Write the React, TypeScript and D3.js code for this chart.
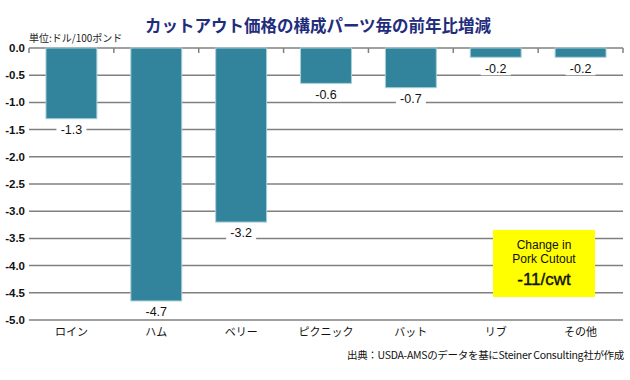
import React from "react";
import * as d3 from "d3";

const categories = ["ロイン", "ハム", "ベリー", "ピクニック", "バット", "リブ", "その他"];
const values = [-1.3, -4.65, -3.2, -0.65, -0.73, -0.17, -0.17];
const valueLabels = ["-1.3", "-4.7", "-3.2", "-0.6", "-0.7", "-0.2", "-0.2"];
const yTicks = [0, -0.5, -1, -1.5, -2, -2.5, -3, -3.5, -4, -4.5, -5];
const title = "カットアウト価格の構成パーツ毎の前年比増減";
const unitLabel = "単位:ドル/100ポンド";
const sourceLabel = "出典：USDA-AMSのデータを基にSteiner Consulting社が作成";
const boxLines = ["Change in", "Pork Cutout", "-11/cwt"];

const W = 630, H = 380;
const left = 29, right = 623, top = 48, bottom = 320;
const font = "'Liberation Sans', Arial, 'Noto Sans CJK JP', sans-serif";

export default function App() {
  const x = d3.scaleBand<string>().domain(categories).range([left, right]).paddingInner(0.4).paddingOuter(0.2);
  const xb = d3.scaleBand<string>().domain(categories).range([left, right]);
  const y = d3.scaleLinear().domain([0, -5]).range([top, bottom]);
  return (
    <svg width={W} height={H} style={{ position: "absolute", left: 0, top: 0, background: "#fff" }}>
      <text x={318} y={32} textAnchor="middle" fontFamily="'Noto Sans CJK JP', sans-serif" fontWeight="bold" fontSize={16.5} fill="#1f2d7c">{title}</text>
      <text x={29} y={42} fontFamily="'Noto Sans CJK JP', sans-serif" fontSize={10} fill="#222">{unitLabel}</text>
      {yTicks.map((t) => (
        <g key={t}>
          <line x1={left} x2={right} y1={y(t)} y2={y(t)} stroke="#808080" strokeWidth={1.5} />
          <text x={25} y={y(t)} dy="0.35em" textAnchor="end" fontFamily={font} fontWeight="bold" fontSize={11.5} fill="#111">{t.toFixed(1)}</text>
        </g>
      ))}
      <line x1={left} x2={left} y1={top} y2={top + 5} stroke="#808080" strokeWidth={1.5} />
      {categories.map((c) => (
        <line key={"t" + c} x1={(xb(c) as number) + xb.bandwidth()} x2={(xb(c) as number) + xb.bandwidth()} y1={top} y2={top + 5} stroke="#808080" strokeWidth={1.5} />
      ))}
      {categories.map((c, i) => (
        <rect key={c} x={x(c)} y={y(0)} width={x.bandwidth()} height={y(values[i]) - y(0)} fill="#31849b" stroke="#a9cfd8" strokeWidth={1} />
      ))}
      {categories.map((c, i) => {
        const cx = (x(c) as number) + x.bandwidth() / 2;
        const ly = y(values[i]) + 11;
        return (
          <g key={"l" + c}>
            <rect x={cx - 15} y={ly - 7} width={30} height={14} fill="#fff" />
            <text x={cx} y={ly} dy="0.35em" textAnchor="middle" fontFamily={font} fontSize={12.5} fill="#111">{valueLabels[i]}</text>
          </g>
        );
      })}
      {categories.map((c) => (
        <text key={"x" + c} x={(x(c) as number) + x.bandwidth() / 2} y={336} textAnchor="middle" fontFamily="'Noto Sans CJK JP', sans-serif" fontSize={11} fill="#111">{c}</text>
      ))}
      <text x={624} y={359} textAnchor="end" fontFamily="'Noto Sans CJK JP', sans-serif" fontSize={10.5} letterSpacing={-0.3} fill="#111">{sourceLabel}</text>
      <rect x={493} y={230} width={102} height={67} fill="#ffff00" />
      <text x={544} y={249} textAnchor="middle" fontFamily={font} fontSize={12} fill="#111">{boxLines[0]}</text>
      <text x={544} y={263} textAnchor="middle" fontFamily={font} fontSize={12} fill="#111">{boxLines[1]}</text>
      <text x={544} y={285} textAnchor="middle" fontFamily={font} fontSize={17} stroke="#111" strokeWidth={0.4} fill="#111">{boxLines[2]}</text>
    </svg>
  );
}
